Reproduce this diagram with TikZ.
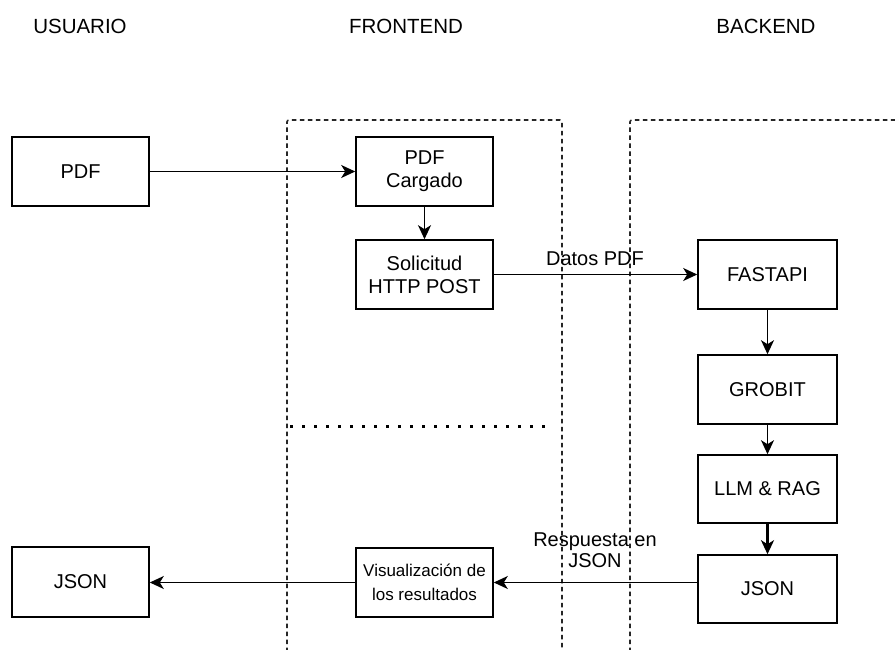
\documentclass[tikz,border=0pt]{standalone}
\usepackage{fontspec}
\setmainfont{Liberation Sans}
\usetikzlibrary{arrows.meta}
\tikzset{
  box/.style={draw=black, line width=1.6pt, minimum width=137pt, minimum height=69pt,
    inner sep=0pt, align=center, font=\fontsize{20}{23}\selectfont},
  header/.style={font=\fontsize{20.5}{24}\selectfont, inner sep=0pt},
  lbl/.style={font=\fontsize{20}{21}\selectfont, inner sep=0pt, align=center},
  conn/.style={draw=black, line width=1.6pt, -{Stealth[length=14pt, width=13pt, inset=4pt]}},
  lane/.style={draw=black!85, line width=1.6pt, dash pattern=on 4.5pt off 3.5pt, rounded corners=2pt},
  sep/.style={draw=black, line width=3pt, dash pattern=on 3pt off 9pt}
}
\begin{document}
\begin{tikzpicture}[x=1pt, y=-1pt]
\useasboundingbox (0,0) rectangle (895,650);
% headers
\node[header] (hu) at (80,26) {USUARIO};
\node[header] (hf) at (406,26) {FRONTEND};
\node[header] (hb) at (766,26) {BACKEND};
% lanes
\draw[lane] (287,652) -- (287,120) -- (562,120) -- (562,652);
\draw[lane] (630,652) -- (630,120) -- (897,120);
\draw[sep] (290,426) -- (552,426);
% nodes
\node[box] (pdf) at (80.5,171.5) {PDF};
\node[box] (cargado) at (424.5,171.5) {PDF\\Cargado};
\node[box] (sol) at (424.5,274.5) {Solicitud\\HTTP POST};
\node[box, minimum width=139pt] (fast) at (767.5,274.5) {FASTAPI};
\node[box, minimum width=139pt] (grob) at (767.5,389.5) {GROBIT};
\node[box, minimum width=139pt, minimum height=68pt] (llm) at (767.5,489) {LLM \& RAG};
\node[box, minimum width=139pt, minimum height=68pt] (jsonb) at (767.5,589) {JSON};
\node[box, font=\fontsize{17}{24}\selectfont] (vis) at (424.5,582.5) {Visualización de\\los resultados};
\node[box, minimum height=70pt] (jsonu) at (80.5,582) {JSON};
% connectors
\draw[conn] (pdf) -- (cargado);
\draw[conn] (cargado) -- (sol);
\draw[conn] (sol) -- (fast);
\draw[conn] (fast) -- (grob);
\draw[conn] (grob) -- (llm);
\draw[conn, line width=2.4pt] (llm) -- (jsonb);
\draw[conn] (jsonb.west |- vis.east) -- (vis.east);
\draw[conn] (vis.west) -- (jsonu.east |- vis.west);
% labels
\node[lbl] (l1) at (595,258.5) {Datos PDF};
\node[lbl] (l2) at (595,550) {Respuesta en\\JSON};
\end{tikzpicture}
\end{document}
